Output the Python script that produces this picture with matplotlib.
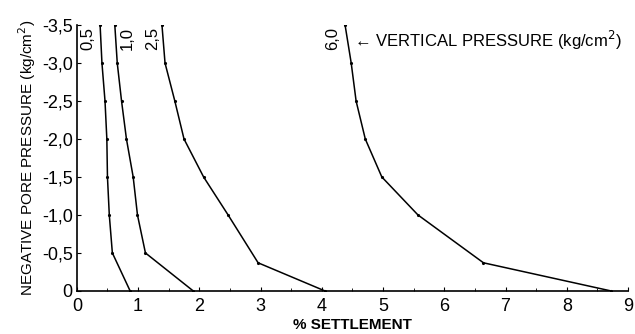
import matplotlib.pyplot as plt
from matplotlib.ticker import FuncFormatter

# pore pressure levels (kg/cm2) and % settlement for each vertical pressure
pore_a = [-3.5, -3.0, -2.5, -2.0, -1.5, -1.0, -0.5, 0.0]
pore_b = [-3.5, -3.0, -2.5, -2.0, -1.5, -1.0, -0.37, 0.0]

settle_05 = [0.38, 0.41, 0.46, 0.49, 0.50, 0.53, 0.58, 0.87]
settle_10 = [0.62, 0.66, 0.73, 0.81, 0.92, 0.99, 1.12, 1.90]
settle_25 = [1.39, 1.44, 1.60, 1.75, 2.07, 2.47, 2.96, 4.05]
settle_60 = [4.38, 4.48, 4.56, 4.71, 4.98, 5.57, 6.64, 8.72]

curve_labels = ["0,5", "1,0", "2,5", "6,0"]
label_x = [0.18, 0.82, 1.23, 4.17]

plt.rcParams['font.family'] = ['Liberation Sans', 'DejaVu Sans']

fig = plt.figure(figsize=(6.35, 3.34), dpi=100)
ax = fig.add_axes([0.121, 0.129, 0.868, 0.796])

curves = [(settle_05, pore_a), (settle_10, pore_a), (settle_25, pore_b), (settle_60, pore_b)]
for (xs, ys), lab, lx in zip(curves, curve_labels, label_x):
    ax.plot(xs, ys, color='black', lw=1.1, marker='.', ms=2.5)
    ax.text(lx, -3.47, lab, rotation=90, ha='center', va='top', fontsize=12)

ax.text(4.52, -3.3, "\u2190 VERTICAL PRESSURE (kg/cm$^2$)", fontsize=12, va='center',
        family=['Liberation Sans', 'DejaVu Sans'])

ax.set_xlim(0, 9)
ax.set_ylim(0, -3.5)
ax.set_xticks(range(10))
ax.set_xticks([i + 0.5 for i in range(9)], minor=True)
ax.set_yticks([0, -0.5, -1.0, -1.5, -2.0, -2.5, -3.0, -3.5])
ax.yaxis.set_major_formatter(FuncFormatter(lambda v, p: "0" if v == 0 else f"{v:.1f}".replace('.', ',')))
ax.tick_params(direction='in', length=3, labelsize=13)
ax.tick_params(axis='y', pad=3)
ax.tick_params(axis='x', pad=5)
ax.tick_params(which='minor', direction='in', length=2)

for s in ['top', 'right']:
    ax.spines[s].set_visible(False)
ax.spines['left'].set_linewidth(1.2)
ax.spines['bottom'].set_linewidth(1.2)

ax.set_xlabel("% SETTLEMENT", fontsize=11, fontweight='bold', labelpad=2)
ax.set_ylabel("NEGATIVE PORE PRESSURE (kg/cm$^2$)", fontsize=11, labelpad=3)

fig.savefig("out.png", dpi=100)
